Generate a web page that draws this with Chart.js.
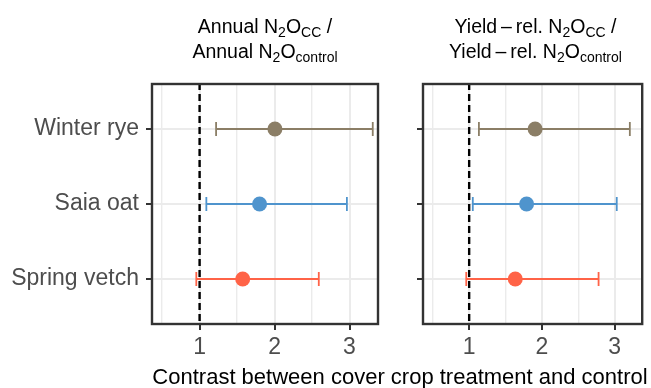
<!DOCTYPE html>
<html>
<head>
<meta charset="utf-8">
<script src="https://cdn.jsdelivr.net/npm/chart.js@4"></script>
<style>
  html, body { margin: 0; padding: 0; background: #ffffff; }
  #wrap { position: relative; width: 651px; height: 388px; overflow: hidden;
          font-family: "Liberation Sans", Arial, Helvetica, sans-serif; }
  canvas { position: absolute; top: 0; }
  .strip { position: absolute; text-align: center; font-size: 19.5px; line-height: 18px;
           color: #000; white-space: nowrap; }
  .strip .s { font-size: 14px; position: relative; top: 4px; }
  #xtitle { position: absolute; left: 152px; width: 496px; top: 366px; text-align: center;
            font-size: 22px; line-height: 22px; color: #000; white-space: nowrap; }
</style>
</head>
<body>
<div id="wrap">
  <canvas id="panelAnnual" width="400" height="388" style="left:0"></canvas>
  <canvas id="panelYield" width="251" height="388" style="left:400px"></canvas>

  <div class="strip" style="left:152px;width:226px;top:17px">Annual N<span class="s">2</span>O<span class="s">CC</span> /</div>
  <div class="strip" style="left:152px;width:226px;top:42px">Annual N<span class="s">2</span>O<span class="s">control</span></div>
  <div class="strip" style="left:423px;width:225px;top:17px">Yield&#8201;&#8211;&#8201;rel. N<span class="s">2</span>O<span class="s">CC</span> /</div>
  <div class="strip" style="left:423px;width:225px;top:42px">Yield&#8201;&#8211;&#8201;rel. N<span class="s">2</span>O<span class="s">control</span></div>

  <div id="xtitle">Contrast between cover crop treatment and control</div>
</div>

<script>
// Cover crops, listed from the bottom row (y = 1) to the top row (y = 3)
const crops = ['Spring vetch', 'Saia oat', 'Winter rye'];
const cropColors = ['#FF6347', '#4F94CD', '#8B7E66'];

// Ratio of annual N2O (cover crop / control): estimate with interval bounds
const annualEstimate = [1.575, 1.80, 2.005];
const annualLower    = [0.956, 1.09, 1.22];
const annualUpper    = [2.59, 2.965, 3.31];

// Ratio of yield-related N2O (cover crop / control)
const yieldEstimate = [1.634, 1.79, 1.907];
const yieldLower    = [0.96, 1.05, 1.134];
const yieldUpper    = [2.78, 3.03, 3.21];

// Axis breaks and the no-difference reference
const xBreaks = [1, 2, 3];
const referenceRatio = 1;

const GRID = '#EBEBEB';
const INK = '#333333';
const TICK_TEXT = '#4D4D4D';
const FONT = '"Liberation Sans", Arial, Helvetica, sans-serif';

// Minor grid lines sit halfway between the labelled breaks
const xGrid = [];
xBreaks.forEach((b) => { xGrid.push(b - 0.5); xGrid.push(b); });
const isMajor = (v) => xBreaks.includes(v);

// Panel frame drawn on top of everything in the plotting area
const panelFrame = {
  id: 'panelFrame',
  afterDatasetsDraw(chart) {
    const a = chart.chartArea;
    const ctx = chart.ctx;
    ctx.save();
    ctx.strokeStyle = INK;
    ctx.lineWidth = 2.4;
    ctx.strokeRect(a.left, a.top, a.right - a.left, a.bottom - a.top);
    ctx.restore();
  }
};

function buildPanel(canvasId, est, lo, hi, showNames, yAxisWidth, rightPad) {
  const datasets = [];

  // dashed vertical line at ratio 1
  datasets.push({
    type: 'scatter', showLine: true,
    data: [{ x: referenceRatio, y: 0 }, { x: referenceRatio, y: 4 }],
    borderColor: '#000000', borderWidth: 2.4, borderDash: [7, 4],
    pointRadius: 0, order: 3
  });

  // horizontal interval bars with end caps
  crops.forEach((c, i) => {
    datasets.push({
      type: 'scatter', showLine: true,
      data: [{ x: lo[i], y: i + 1 }, { x: hi[i], y: i + 1 }],
      borderColor: cropColors[i], borderWidth: 1.8,
      pointStyle: 'line', rotation: 90, pointRadius: 7,
      pointBorderColor: cropColors[i], pointBorderWidth: 1.8,
      pointBackgroundColor: cropColors[i],
      order: 2
    });
  });

  // point estimates
  datasets.push({
    type: 'scatter',
    data: est.map((v, i) => ({ x: v, y: i + 1 })),
    backgroundColor: cropColors, borderWidth: 0,
    pointRadius: 7.5, pointHoverRadius: 7.5, order: 1
  });

  return new Chart(document.getElementById(canvasId), {
    type: 'scatter',
    data: { datasets },
    plugins: [panelFrame],
    options: {
      responsive: false,
      animation: false,
      events: [],
      layout: { padding: { left: 0, top: 84, right: rightPad, bottom: 24 } },
      plugins: { legend: { display: false }, tooltip: { enabled: false } },
      scales: {
        x: {
          type: 'linear', min: 0.365, max: 3.38,
          afterBuildTicks: (s) => { s.ticks = xGrid.map((v) => ({ value: v })); },
          afterFit: (s) => { s.height = 40; },
          border: { display: false },
          grid: {
            color: GRID,
            lineWidth: (ctx) => (ctx.tick && isMajor(ctx.tick.value) ? 2 : 1.4),
            drawTicks: true, tickLength: 6, tickWidth: 2,
            tickColor: (ctx) => (ctx.tick && isMajor(ctx.tick.value) ? INK : 'rgba(0,0,0,0)')
          },
          ticks: {
            autoSkip: false, maxRotation: 0, padding: 4,
            color: TICK_TEXT, font: { family: FONT, size: 23 },
            callback: (v) => (isMajor(v) ? String(v) : '')
          }
        },
        y: {
          type: 'linear', min: 0.4, max: 3.6,
          afterBuildTicks: (s) => { s.ticks = crops.map((c, i) => ({ value: i + 1 })); },
          afterFit: (s) => { s.width = yAxisWidth; },
          border: { display: false },
          grid: {
            color: GRID, lineWidth: 2,
            drawTicks: true, tickLength: 6, tickWidth: 2, tickColor: INK
          },
          ticks: {
            autoSkip: false, padding: 7,
            color: TICK_TEXT, font: { family: FONT, size: 23 },
            callback: (v) => (showNames ? crops[Math.round(v) - 1] : '')
          }
        }
      }
    }
  });
}

buildPanel('panelAnnual', annualEstimate, annualLower, annualUpper, true, 152, 22);
buildPanel('panelYield', yieldEstimate, yieldLower, yieldUpper, false, 23, 3);
</script>
</body>
</html>
